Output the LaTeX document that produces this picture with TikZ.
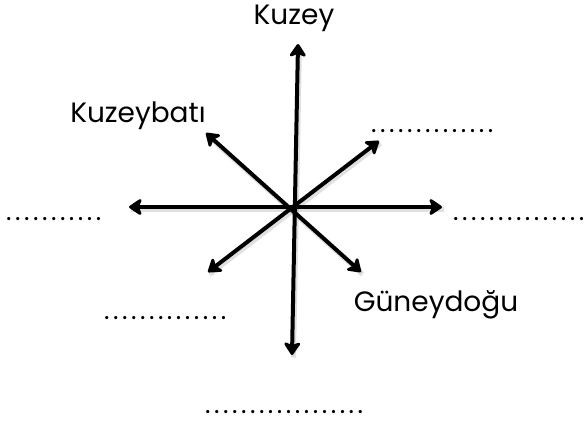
\documentclass[tikz,border=0pt]{standalone}
\usepackage{fontspec}
\setmainfont{Poppins}
\newfontfamily\dotfont[LetterSpace=13.5]{Poppins}
\usetikzlibrary{arrows.meta}
\tikzset{
  compass/.style={line width=4pt,{Stealth[length=15pt,width=20pt,inset=4pt,round]}-{Stealth[length=15pt,width=20pt,inset=4pt,round]}},
  shadowline/.style={line width=5pt,black,opacity=0.12},
  lbl/.style={font=\fontsize{28}{32}\selectfont,inner sep=0pt},
  dots/.style={font=\fontsize{26}{30}\dotfont,inner sep=0pt,anchor=base west}
}
\begin{document}
\begin{tikzpicture}[x=1pt,y=-1pt]
\useasboundingbox (0,0) rectangle (585,432);
\coordinate (n) at (298,44);
\coordinate (s) at (292,355);
\coordinate (w) at (129,207);
\coordinate (e) at (442,207);
\coordinate (nw) at (206,133);
\coordinate (se) at (361,272);
\coordinate (ne) at (379,141);
\coordinate (sw) at (208,272);
% soft shadows
\foreach \a/\b in {n/s,w/e,nw/se,ne/sw}{
  \draw[shadowline,transform canvas={shift={(1.5pt,-2.5pt)}}] (\a) -- (\b);
}
\draw[compass] (s) -- (n);
\draw[compass] (w) -- (e);
\draw[compass] (se) -- (nw);
\draw[compass] (sw) -- (ne);
\node[lbl] (kuzey) at (294,18) {Kuzey};
\node[lbl] (kb) at (138,116) {Kuzeybatı};
\node[lbl] (gd) at (436,305) {Güneydoğu};
\node[dots] (d1) at (371,132) {..............};
\node[dots] (d2) at (6,220) {...........};
\node[dots] (d3) at (453,220) {...............};
\node[dots] (d4) at (104,319) {..............};
\node[dots] (d5) at (205,413) {..................};
\end{tikzpicture}
\end{document}
